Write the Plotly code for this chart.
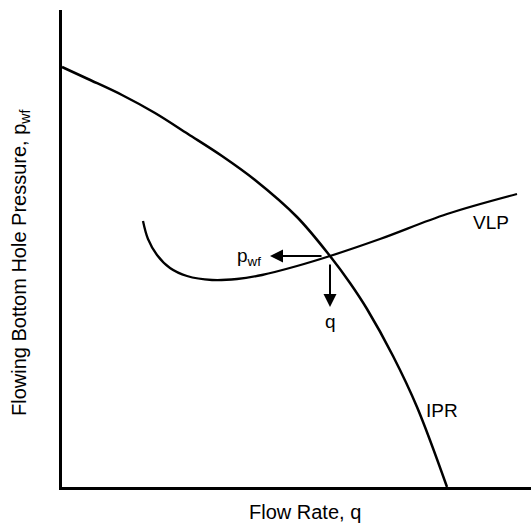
import plotly.graph_objects as go

# IPR curve (flow rate q, pressure pwf) in arbitrary units
ipr_q = [0, 26, 60, 93, 126, 160, 193, 235, 268, 288, 305, 331, 355, 385]
ipr_p = [420, 408, 392, 374, 353, 331, 307, 270, 231, 204, 178, 131, 80, 0]

# VLP curve
vlp_q = [81, 86, 95, 108, 125, 150, 175, 200, 235, 268, 318, 385, 455]
vlp_p = [266, 248, 232, 219, 211, 207, 208, 212, 221, 231, 248, 273, 293]

# operating point (intersection)
op_q = 268
op_p = 231

x_max = 469
y_max = 477

FONT = "Liberation Sans, Arial, Helvetica, sans-serif"

fig = go.Figure()
fig.add_trace(go.Scatter(x=ipr_q, y=ipr_p, mode="lines",
                         line=dict(color="black", width=2.5, shape="spline", smoothing=1.0),
                         hoverinfo="skip", showlegend=False))
fig.add_trace(go.Scatter(x=vlp_q, y=vlp_p, mode="lines",
                         line=dict(color="black", width=2.3, shape="spline", smoothing=1.0),
                         hoverinfo="skip", showlegend=False))

annotations = [
    # horizontal arrow to pwf
    dict(x=op_q - 60, y=op_p, ax=op_q - 7, ay=op_p, xref="x", yref="y", axref="x", ayref="y",
         showarrow=True, arrowhead=2, arrowsize=1.3, arrowwidth=2, arrowcolor="black", text=""),
    # vertical arrow to q
    dict(x=op_q, y=op_p - 51, ax=op_q, ay=op_p - 7, xref="x", yref="y", axref="x", ayref="y",
         showarrow=True, arrowhead=2, arrowsize=1.3, arrowwidth=2, arrowcolor="black", text=""),
    dict(x=op_q - 81, y=op_p - 1, xref="x", yref="y", text="p<sub>wf</sub>", showarrow=False,
         font=dict(size=19, color="black", family=FONT), xanchor="center", yanchor="middle"),
    dict(x=op_q, y=op_p - 65, xref="x", yref="y", text="q", showarrow=False,
         font=dict(size=19, color="black", family=FONT), xanchor="center", yanchor="middle"),
    dict(x=429, y=265, xref="x", yref="y", text="VLP", showarrow=False,
         font=dict(size=19, color="black", family=FONT), xanchor="center", yanchor="middle"),
    dict(x=380, y=77, xref="x", yref="y", text="IPR", showarrow=False,
         font=dict(size=19, color="black", family=FONT), xanchor="center", yanchor="middle"),
    dict(x=(305 - 62) / 469, y=-25 / 477, xref="paper", yref="paper", text="Flow Rate, q",
         showarrow=False, font=dict(size=20, color="black", family=FONT),
         xanchor="center", yanchor="middle"),
    dict(x=-42 / 469, y=224 / 477, xref="paper", yref="paper",
         text="Flowing Bottom Hole Pressure, p<sub>wf</sub>", textangle=-90,
         showarrow=False, font=dict(size=20, color="black", family=FONT),
         xanchor="center", yanchor="middle"),
]

fig.update_layout(
    width=531, height=528,
    margin=dict(l=62, r=0, t=10, b=41),
    paper_bgcolor="white", plot_bgcolor="white",
    annotations=annotations,
    xaxis=dict(range=[0, x_max], showgrid=False, zeroline=False, showticklabels=False,
               ticks="", showline=True, linewidth=2.5, linecolor="black", fixedrange=True),
    yaxis=dict(range=[0, y_max], showgrid=False, zeroline=False, showticklabels=False,
               ticks="", showline=True, linewidth=2.5, linecolor="black", fixedrange=True),
)

fig.write_html("out.html")
